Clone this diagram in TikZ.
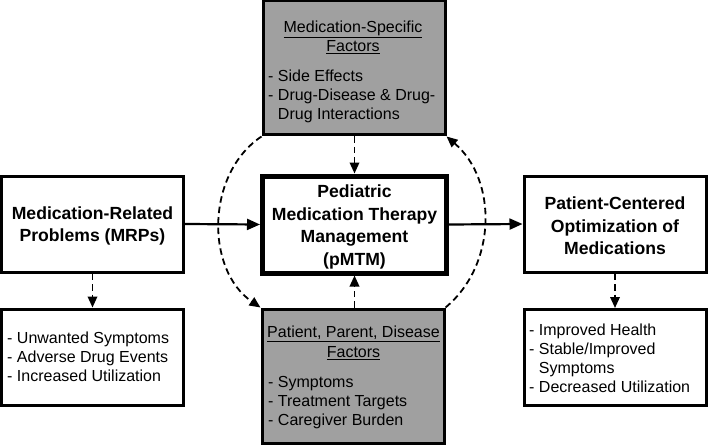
\documentclass[tikz,border=0pt]{standalone}
\usepackage{fontspec}
\setmainfont{Liberation Sans}
\usetikzlibrary{arrows.meta}
\definecolor{boxgray}{RGB}{160,160,160}
\tikzset{
  box/.style={draw, line width=3pt, inner sep=0pt, minimum width=182pt, minimum height=96pt},
  graybox/.style={box, fill=boxgray, minimum height=134pt},
  centerbox/.style={draw, line width=5pt, inner sep=0pt, minimum width=184pt, minimum height=97pt},
  boldtxt/.style={align=center, inner sep=0pt, font=\fontsize{17.6}{22.5}\selectfont\bfseries},
  listtxt/.style={align=left, inner sep=0pt, anchor=west, font=\fontsize{16}{19}\selectfont},
  headtxt/.style={align=center, inner sep=0pt, font=\fontsize{16}{19.5}\selectfont},
  solidarrow/.style={line width=2.2pt, -{Triangle[length=13pt,width=11pt]}},
  dasharrow/.style={line width=1.8pt, dash pattern=on 6.5pt off 4pt, -{Triangle[length=11pt,width=9.5pt]}}
}
\begin{document}
\begin{tikzpicture}[x=1pt,y=1pt]
\useasboundingbox (0,0) rectangle (708,445);
% boxes
\node[graybox] (top) at (354,377) {};
\node[graybox] (bot) at (353,69) {};
\node[centerbox] (ctr) at (354.5,220.5) {};
\node[box] (mrp) at (92.5,221) {};
\node[box] (mrpout) at (92.5,88) {};
\node[box] (opt) at (615,221) {};
\node[box] (optout) at (615,87.5) {};
% texts
\node[boldtxt] (mrptxt) at (92.5,219) {Medication-Related\\Problems (MRPs)};
\node[boldtxt] (ctrtxt) at (354.5,218) {Pediatric\\Medication Therapy\\Management\\(pMTM)};
\node[boldtxt] (opttxt) at (615,219) {Patient-Centered\\Optimization of\\Medications};
\node[headtxt] (tophead) at (353,407.5) {\underline{Medication-Specific}\\\underline{Factors}};
\node[listtxt] (toplist) at (268,349) {- Side Effects\\- Drug-Disease \& Drug-\\\phantom{- }Drug Interactions};
\node[headtxt] (bothead) at (353.5,102) {\underline{Patient, Parent, Disease}\\\underline{Factors}};
\node[listtxt] (botlist) at (268,42.5) {- Symptoms\\- Treatment Targets\\- Caregiver Burden};
\node[listtxt] (mrplist) at (7,88) {- Unwanted Symptoms\\- Adverse Drug Events\\- Increased Utilization};
\node[listtxt] (optlist) at (529,87) {- Improved Health\\- Stable/Improved\\\phantom{- }Symptoms\\- Decreased Utilization};
% connectors
\draw[solidarrow] (mrp.east) -- (ctr.west);
\draw[solidarrow] (ctr.east) -- (opt.west);
\draw[dasharrow] (mrp.south) -- (mrpout.north);
\draw[dasharrow] (opt.south) -- (optout.north);
\draw[dasharrow] (top.south -| ctr.north) -- (ctr.north);
\draw[dasharrow] (bot.north -| ctr.south) -- (ctr.south);
\draw[dasharrow] (top.south west) to[bend right=56] (bot.north west);
\draw[dasharrow] (bot.north east) to[bend right=50] (top.south east);
\end{tikzpicture}
\end{document}
